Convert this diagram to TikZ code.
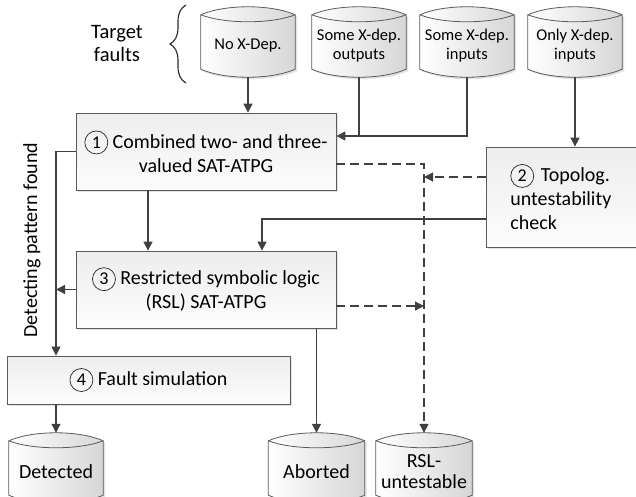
\documentclass[tikz,border=0pt]{standalone}
\usepackage{fontspec}
\setmainfont{Carlito}
\usetikzlibrary{arrows.meta,shadows,backgrounds,decorations.pathreplacing}

\definecolor{wire}{HTML}{404040}
\definecolor{edge}{HTML}{5A5A5A}

\tikzset{
  stepbox/.style = {draw = edge, line width = 0.8pt, top color = black!7, bottom color = black!1,
    drop shadow = {shadow xshift = 2pt, shadow yshift = -2pt, fill = black!22},
    inner sep = 0pt, align = center, font = \fontsize{20}{24}\selectfont},
  store/.style = {inner sep = 0pt, minimum width = 94pt, minimum height = 47pt, align = center},
  link/.style = {draw = wire, line width = 1.2pt},
  arr/.style = {link, -{Triangle[length = 9pt, width = 9pt]}},
  dasharr/.style = {arr, dash pattern = on 9pt off 5pt}
}

% circled step number
\newcommand\stepmark[1]{\tikz[baseline = (m.base)] \node (m) [circle, draw = black!85, line width = 0.7pt,
  inner sep = 0pt, minimum size = 23pt, font = \fontsize{18}{18}\selectfont] {#1};}

% storage outline round a node: lens top, bowed bottom
\newcommand\storeoutline[1]{%
  \path[draw = edge, line width = 0.8pt, left color = white, middle color = white, right color = black!16,
        drop shadow = {shadow xshift = 2pt, shadow yshift = -2pt, fill = black!22}]
    ([yshift = 7pt]#1.north west) .. controls +(24pt, 10.7pt) and +(-24pt, 10.7pt) .. ([yshift = 7pt]#1.north east)
    -- (#1.south east) .. controls +(-24pt, -10.7pt) and +(24pt, -10.7pt) .. (#1.south west) -- cycle;
  \draw[edge, line width = 0.8pt] ([yshift = 7pt]#1.north west)
    .. controls +(24pt, -9.3pt) and +(-24pt, -9.3pt) .. ([yshift = 7pt]#1.north east);
}

\begin{document}
\begin{tikzpicture}[x = 1pt, y = -1pt]
  \useasboundingbox (0, 0) rectangle (636, 496);

  % fault classes
  \node (target) at (117, 43.5) [align = center, font = \fontsize{20.5}{23}\selectfont] {Target\\faults};
  \draw [decorate, decoration = {brace, amplitude = 16pt}, line width = 1.1pt, black!85] (186, 83) -- (186, 5);

  \node (nox) at (248, 45.5) [store, font = \fontsize{16.5}{18.5}\selectfont] {No X-Dep.};
  \node (sout) at (359, 45.5) [store, font = \fontsize{16.5}{18.5}\selectfont] {Some X-dep.\\outputs};
  \node (sin) at (467, 45.5) [store, font = \fontsize{16.5}{18.5}\selectfont] {Some X-dep.\\inputs};
  \node (only) at (575, 45.5) [store, font = \fontsize{16.5}{18.5}\selectfont] {Only X-dep.\\inputs};

  % steps
  \node (comb) at (206, 151.5) [stepbox, minimum width = 260pt, minimum height = 77pt]
    {\stepmark{1} Combined two- and three-\\valued SAT-ATPG};
  \node (topo) at (486, 197) [stepbox, anchor = west, minimum height = 100pt, text width = 112pt,
    inner xsep = 24pt, align = left] {\stepmark{2} Topolog.\\untestability\\check};
  \node (rsl) at (206, 289.5) [stepbox, minimum width = 260pt, minimum height = 77pt]
    {\stepmark{3} Restricted symbolic logic\\(RSL) SAT-ATPG};
  \node (sim) at (148.5, 380) [stepbox, minimum width = 283pt, minimum height = 48pt]
    {\stepmark{4} Fault simulation};

  % results
  \node (det) at (56, 471.5) [store, font = \fontsize{20}{22}\selectfont] {Detected};
  \node (abo) at (316.5, 471.5) [store, minimum width = 96pt, font = \fontsize{20}{22}\selectfont] {Aborted};
  \node (unt) at (424, 471.5) [store, minimum width = 96pt, font = \fontsize{20}{20.5}\selectfont] {RSL-\\untestable};

  \node (found) at (32, 240) [rotate = 90, font = \fontsize{20}{24}\selectfont] {Detecting pattern found};

  \begin{scope}[on background layer]
    \storeoutline{nox}
    \storeoutline{sout}
    \storeoutline{sin}
    \storeoutline{only}
    \storeoutline{det}
    \storeoutline{abo}
    \storeoutline{unt}
  \end{scope}

  \coordinate (merge) at ([yshift = 15.5pt]comb.east);
  \coordinate (tw1) at ([yshift = 20pt]topo.west);
  \coordinate (tw2) at ([yshift = -22pt]topo.west);

  \draw [arr] ([yshift = -8pt]nox.south) -- (nox.south |- comb.north);
  \draw [link] ([yshift = -8pt]sout.south) -- (sout.south |- merge);
  \draw [arr] ([yshift = -8pt]sin.south) |- (merge);
  \draw [arr] ([yshift = -8pt]only.south) -- (only.south |- topo.north);

  \draw [dasharr] ([yshift = -12.5pt]comb.east) -| ([yshift = 15pt]unt.north);
  \draw [dasharr] (tw1) -- (tw1 -| unt.north);
  \draw [dasharr] ([yshift = -16.5pt]rsl.east) -- ([yshift = -16.5pt]rsl.east -| unt.north);

  \draw [arr] ([xshift = -58pt]comb.south) -- ([xshift = -58pt]rsl.north);
  \draw [arr] (tw2) -| ([xshift = 56pt]rsl.north);
  \draw [arr] (rsl.south -| abo.north) -- ([yshift = 15pt]abo.north);

  \draw [arr] (comb.west) -| (sim.north -| det.north);
  \draw [arr] (rsl.west) -- (rsl.west -| det.north);
  \draw [arr] (sim.south -| det.north) -- ([yshift = 15pt]det.north);
\end{tikzpicture}
\end{document}
